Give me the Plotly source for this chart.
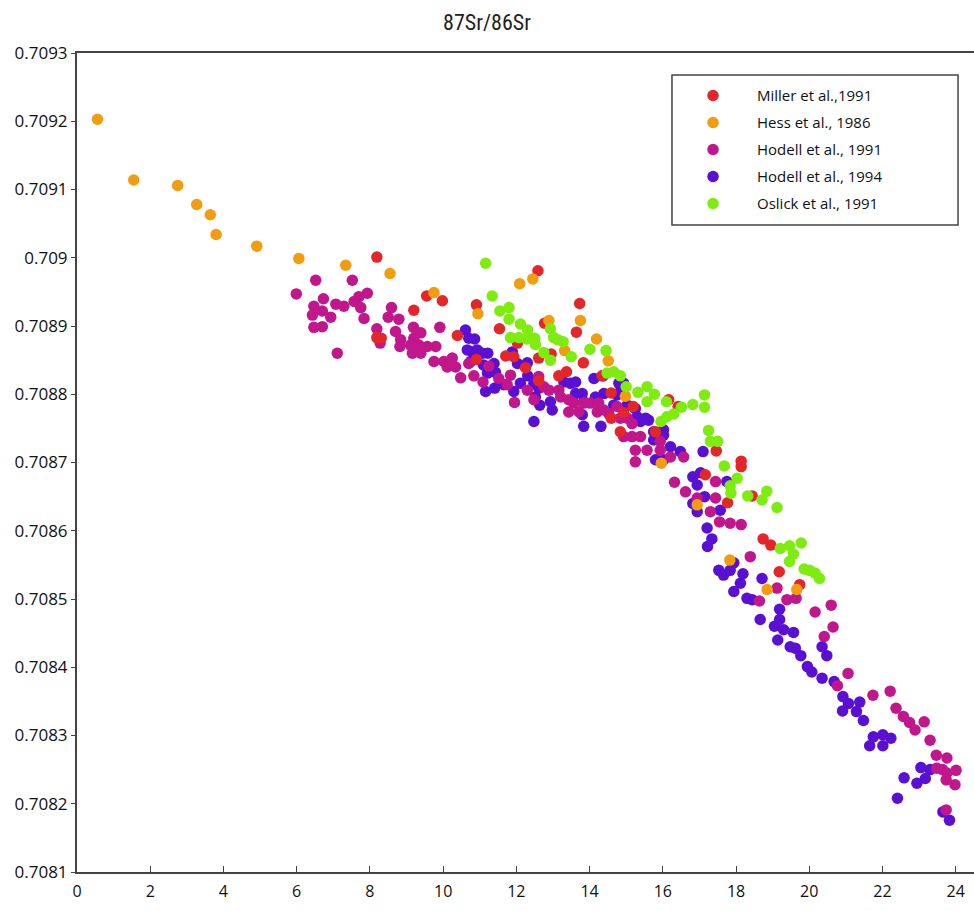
import plotly.graph_objects as go

# ---------------- data (age in Ma, 87Sr/86Sr) ----------------
miller_x = [8.19, 9.55, 9.98, 9.20, 8.19, 8.31, 10.39, 10.91, 11.54, 10.91, 11.71, 11.93, 12.03, 12.25,
            12.59, 12.77, 12.61, 12.95, 12.61, 13.16, 13.37, 13.73, 13.64, 13.83, 14.34, 14.59, 14.93, 14.59,
            14.84, 15.19, 15.80, 16.16, 16.42, 17.46, 18.14, 18.14, 17.16, 17.77, 18.44, 18.74, 18.95, 19.18, 19.74]
miller_y = [0.709001, 0.708944, 0.708937, 0.708923, 0.708883, 0.708882, 0.708886, 0.708931, 0.708896, 0.708851,
            0.708856, 0.708855, 0.708875, 0.708839, 0.708981, 0.708904, 0.708853, 0.708859, 0.708820, 0.708827,
            0.708833, 0.708933, 0.708891, 0.708846, 0.708827, 0.708802, 0.708773, 0.708765, 0.708745, 0.708782,
            0.708745, 0.708792, 0.708782, 0.708717, 0.708702, 0.708694, 0.708682, 0.708641, 0.708651, 0.708588,
            0.708579, 0.708540, 0.708521]

hess_x = [0.56, 1.55, 2.75, 3.27, 3.64, 3.80, 4.91, 6.06, 7.34, 8.55, 9.75, 10.95, 12.09, 12.45, 12.89,
          13.32, 13.75, 14.19, 14.51, 14.98, 15.96, 16.94, 17.83, 18.85, 19.66]
hess_y = [0.709203, 0.709114, 0.709106, 0.709078, 0.709063, 0.709034, 0.709017, 0.708999, 0.708989, 0.708977,
          0.708949, 0.708918, 0.708962, 0.708969, 0.708908, 0.708864, 0.708908, 0.708881, 0.708849, 0.708797,
          0.708699, 0.708638, 0.708557, 0.708514, 0.708514]

hodell91_x = [5.99, 6.52, 7.52, 6.73, 6.47, 6.43, 6.70, 6.93, 7.07, 7.29, 7.57, 7.70, 7.93, 7.75, 7.84, 6.47,
              6.70, 7.11, 8.59, 8.50, 8.79, 8.19, 8.28, 8.70, 8.84, 8.82, 9.19, 9.39, 9.20, 9.11, 9.34, 9.16,
              9.39, 9.57, 9.80, 9.91, 9.75, 10.02, 10.25, 10.11, 10.34, 10.48,
              10.70, 10.84, 11.09, 11.25, 11.52, 11.75, 11.84, 11.95, 12.30, 12.48, 12.61, 12.75, 12.89, 13.16,
              13.21, 13.43, 13.43, 13.57, 13.71, 13.84, 14.02, 14.25, 14.21, 14.39, 14.52, 14.75, 14.84,
              15.03, 15.16, 14.93, 15.16, 15.39, 15.25, 15.25, 15.57, 15.93, 15.93, 16.21, 16.57, 16.32, 16.62,
              16.94, 17.30, 17.44, 17.44, 17.55, 17.84, 18.14,
              18.39, 19.12, 18.64, 19.39, 19.64, 20.16, 20.60, 20.65, 20.41, 21.06, 20.77, 21.74, 22.21, 22.37,
              22.57, 22.74, 22.89, 23.14, 23.30, 23.47, 23.76, 23.48, 23.64, 23.76, 24.01, 23.74, 23.98, 23.74]
hodell91_y = [0.708947, 0.708967, 0.708967, 0.708940, 0.708929, 0.708916, 0.708922, 0.708913, 0.708932, 0.708929,
              0.708936, 0.708943, 0.708948, 0.708927, 0.708911, 0.708898, 0.708899, 0.708860, 0.708927, 0.708913,
              0.708910, 0.708896, 0.708875, 0.708892, 0.708880, 0.708870, 0.708898, 0.708890, 0.708882, 0.708872,
              0.708872, 0.708860, 0.708860, 0.708870, 0.708870, 0.708898, 0.708848, 0.708848, 0.708853, 0.708840,
              0.708840, 0.708824,
              0.708845, 0.708827, 0.708818, 0.708841, 0.708823, 0.708814, 0.708828, 0.708788, 0.708806, 0.708792,
              0.708826, 0.708811, 0.708806, 0.708806, 0.708796, 0.708792, 0.708774, 0.708787, 0.708774, 0.708787,
              0.708787, 0.708787, 0.708774, 0.708777, 0.708772, 0.708782, 0.708765,
              0.708765, 0.708757, 0.708738, 0.708738, 0.708738, 0.708718, 0.708701, 0.708718, 0.708731, 0.708718,
              0.708708, 0.708708, 0.708671, 0.708657,
              0.708648, 0.708628, 0.708648, 0.708672, 0.708613, 0.708611, 0.708609,
              0.708562, 0.708516, 0.708497, 0.708499, 0.708501, 0.708481, 0.708491, 0.708459, 0.708445, 0.708391,
              0.708373, 0.708359, 0.708365, 0.708340, 0.708328, 0.708319, 0.708308, 0.708320, 0.708293, 0.708271,
              0.708267, 0.708252, 0.708250, 0.708245, 0.708249, 0.708235, 0.708228, 0.708191]

hodell94_x = [10.61, 10.86, 10.70, 10.66, 10.80, 10.93, 11.07, 11.22, 10.75, 11.10, 11.39, 11.21, 11.43, 11.16,
              11.41, 11.66, 11.89, 12.03, 12.30, 11.93, 12.11, 12.31, 12.48, 12.61, 12.52, 12.64, 12.98, 12.93,
              12.48, 13.30, 13.48, 13.62, 13.62, 13.80, 13.84, 13.80, 13.84, 14.12, 14.37, 14.16, 14.39, 14.66,
              14.80, 14.75, 14.31,
              14.93, 14.84, 15.03, 15.25, 15.30, 15.53, 15.61, 15.39, 15.75, 16.02, 15.75, 16.02, 16.21, 16.48,
              15.80, 16.02, 16.82, 17.03, 16.94,
              17.10, 17.14, 16.82, 16.94, 17.57, 17.75, 17.21, 17.34, 17.22, 17.53, 17.66, 17.84, 17.94, 17.94,
              18.19, 18.12, 18.71, 18.30, 18.44, 18.66, 19.19, 19.19, 19.05, 19.30, 19.57, 19.14, 19.48, 19.62,
              19.77, 19.95, 20.07, 20.35, 20.35, 20.48, 20.68, 20.92, 21.07, 20.91, 21.29, 21.38, 21.48, 21.75,
              22.01, 22.23, 21.65, 22.01, 23.05, 23.30, 23.17, 22.59, 22.94, 22.41, 23.65, 23.83]
hodell94_y = [0.708894, 0.708881, 0.708882, 0.708865, 0.708862, 0.708865, 0.708860, 0.708860, 0.708848, 0.708843,
              0.708845, 0.708831, 0.708832, 0.708804, 0.708809, 0.708814, 0.708862, 0.708845, 0.708846, 0.708804,
              0.708816, 0.708827, 0.708816, 0.708809, 0.708796, 0.708784, 0.708777, 0.708789, 0.708760, 0.708818,
              0.708816, 0.708818, 0.708801, 0.708801, 0.708789, 0.708770, 0.708753, 0.708823, 0.708827, 0.708796,
              0.708801, 0.708784, 0.708816, 0.708799, 0.708753,
              0.708816, 0.708804, 0.708784, 0.708779, 0.708767, 0.708765, 0.708762, 0.708760, 0.708745, 0.708748,
              0.708733, 0.708740, 0.708723, 0.708716, 0.708704, 0.708704, 0.708679, 0.708685, 0.708667,
              0.708716, 0.708650, 0.708640, 0.708628, 0.708630, 0.708672, 0.708604, 0.708588, 0.708577, 0.708542,
              0.708535, 0.708542, 0.708511, 0.708553,
              0.708537, 0.708523, 0.708530, 0.708501, 0.708499, 0.708470, 0.708485, 0.708470, 0.708460, 0.708455,
              0.708451, 0.708440, 0.708430, 0.708428, 0.708417, 0.708401, 0.708393, 0.708384, 0.708430, 0.708417,
              0.708379, 0.708357, 0.708347, 0.708336, 0.708335, 0.708349, 0.708322, 0.708298, 0.708301, 0.708296,
              0.708285, 0.708285, 0.708253, 0.708250, 0.708237, 0.708238, 0.708230, 0.708208, 0.708188, 0.708176]

oslick_x = [11.16, 11.34, 11.55, 11.80, 11.80, 12.11, 12.31, 11.84, 12.07, 12.28, 12.50, 12.52, 12.75, 12.93,
            12.93, 13.02, 13.13, 13.28, 13.50, 14.01, 14.45, 14.48, 14.66, 14.84, 15.00, 15.32, 15.57, 15.77,
            15.57, 16.10, 16.51, 16.82, 15.95, 16.11, 16.30, 17.14, 17.14, 17.25, 17.30, 17.50, 17.68, 18.03,
            17.84, 17.86, 18.32, 18.84, 18.71, 19.12, 19.21, 19.46, 19.78, 19.57, 19.46, 19.86, 20.01, 20.16, 20.28]
oslick_y = [0.708992, 0.708944, 0.708922, 0.708927, 0.708910, 0.708903, 0.708894, 0.708883, 0.708883, 0.708881,
            0.708882, 0.708873, 0.708861, 0.708896, 0.708850, 0.708883, 0.708880, 0.708877, 0.708855, 0.708866,
            0.708864, 0.708831, 0.708833, 0.708827, 0.708811, 0.708803, 0.708811, 0.708800, 0.708789, 0.708789,
            0.708781, 0.708785, 0.708760, 0.708767, 0.708771, 0.708799, 0.708781, 0.708747, 0.708731, 0.708731,
            0.708695, 0.708677, 0.708666, 0.708655, 0.708651, 0.708658, 0.708645, 0.708634, 0.708574, 0.708578,
            0.708582, 0.708566, 0.708555, 0.708544, 0.708542, 0.708538, 0.708530]

x_ticks = [0, 2, 4, 6, 8, 10, 12, 14, 16, 18, 20, 22, 24]
y_ticks = [0.7081, 0.7082, 0.7083, 0.7084, 0.7085, 0.7086, 0.7087, 0.7088, 0.7089, 0.7090, 0.7091, 0.7092, 0.7093]
y_tick_text = ["0.7081", "0.7082", "0.7083", "0.7084", "0.7085", "0.7086", "0.7087", "0.7088", "0.7089",
               "0.709", "0.7091", "0.7092", "0.7093"]

# ---------------- figure ----------------
TITLE_FONT = "Liberation Sans Narrow, Roboto Condensed, Arial Narrow, Roboto, sans-serif"
FONT = "Open Sans, Noto Sans, sans-serif"

series = [
    # name, x, y, color, legend rank  (drawing order bottom -> top)
    ("Hodell et al., 1994", hodell94_x, hodell94_y, "#5a10d4", 4),
    ("Hodell et al., 1991", hodell91_x, hodell91_y, "#c2168c", 3),
    ("Miller et al.,1991", miller_x, miller_y, "#e3262a", 1),
    ("Hess et al., 1986", hess_x, hess_y, "#f19d0f", 2),
    ("Oslick et al., 1991", oslick_x, oslick_y, "#7eec0e", 5),
]

fig = go.Figure()
for name, xs, ys, col, rank in series:
    fig.add_trace(go.Scatter(
        x=xs, y=ys, mode="markers", name=name,
        legendrank=rank, legendgroup=name,
        marker=dict(size=11.5, color=col, line=dict(width=0)),
    ))

# legend frame (wider than Plotly's auto-sized legend box)
fig.add_shape(type="rect", xref="paper", yref="paper",
              x0=0.6633, x1=0.9822, y0=0.790, y1=0.9731,
              line=dict(color="#444", width=1.5), fillcolor="white", layer="above")

fig.update_layout(
    width=974, height=911,
    margin=dict(l=77, r=0, t=53, b=39),
    paper_bgcolor="white", plot_bgcolor="white",
    title=dict(text="87Sr/86Sr", x=0.5, xanchor="center", y=0.976, yanchor="middle",
               font=dict(family=TITLE_FONT, size=22, color="#222")),
    font=dict(family=FONT, color="#111"),
    showlegend=True,
    legend=dict(
        x=0.660, y=0.968, xanchor="left", yanchor="top",
        bgcolor="rgba(0,0,0,0)", borderwidth=0,
        font=dict(family=FONT, size=15, color="#111"),
        itemwidth=78, tracegroupgap=4.5,
        traceorder="grouped",
    ),
    xaxis=dict(
        range=[0, 24.5], tickvals=x_ticks, ticktext=[str(v) for v in x_ticks],
        showgrid=False, zeroline=False,
        showline=True, linecolor="#444", linewidth=2, mirror=True,
        ticks="inside", ticklen=6, tickcolor="#444", tickwidth=1,
        tickfont=dict(family=FONT, size=16, color="#111"),
        ticklabelstandoff=4,
    ),
    yaxis=dict(
        range=[0.7081, 0.7093], tickvals=y_ticks, ticktext=y_tick_text,
        showgrid=False, zeroline=False,
        showline=True, linecolor="#444", linewidth=2,
        ticks="outside", ticklen=4, tickcolor="#444", tickwidth=1,
        tickfont=dict(family=FONT, size=17, color="#111"),
    ),
)

fig.write_html("out.html")
